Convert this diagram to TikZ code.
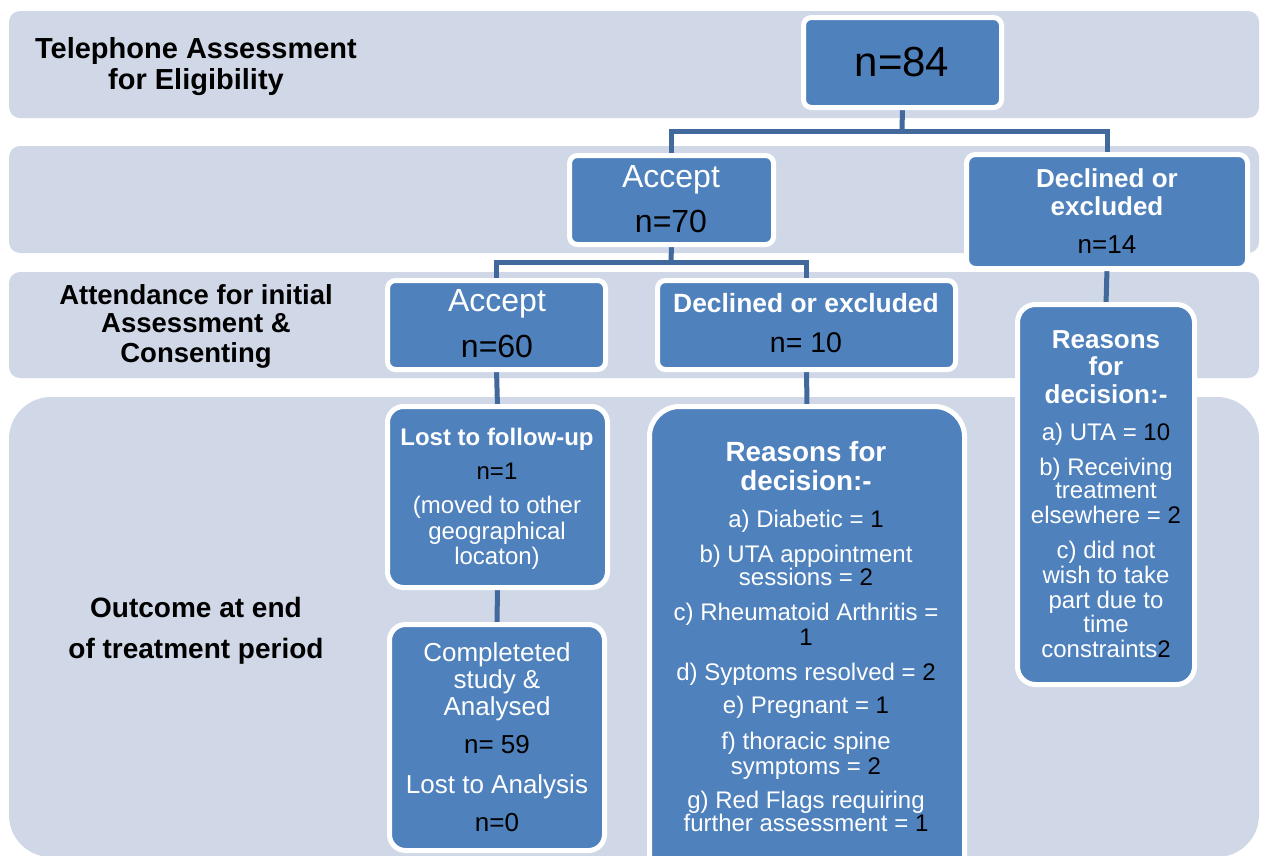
\documentclass[tikz,border=0pt]{standalone}
\usepackage{fontspec}
\setmainfont{Liberation Sans}
\pgfdeclarelayer{bg}
\pgfsetlayers{bg,main}
\definecolor{bandc}{HTML}{D0D8E8}
\definecolor{boxc}{HTML}{4F81BD}
\definecolor{connc}{HTML}{41699B}
\newcommand\blk[1]{\textcolor{black}{#1}}
\newcommand\fs[1]{\fontsize{#1}{#1}\selectfont}
\newcommand\mkbox[6]{\node[bx, rounded corners=#6, minimum width={#4-#2}, minimum height={#5-#3}] (#1) at (#2,#3) {};}
\begin{document}
\begin{tikzpicture}[x=1pt,y=-1pt,
  band/.style={fill=bandc, draw=none},
  bx/.style={draw=white, line width=5pt, fill=boxc, inner sep=0pt, outer sep=0pt, anchor=north west},
  conn/.style={draw=connc, line width=5pt},
  lbl/.style={anchor=base, inner sep=0pt, text=black},
  wt/.style={anchor=base, inner sep=0pt, text=white},
]
\path[use as bounding box] (0,0) rectangle (1261,855);

% boxes
\mkbox{b84}{803.5}{17.5}{1001.5}{107.5}{8}
\mkbox{b70}{569.5}{155.5}{773.5}{244.5}{8}
\mkbox{b14}{966.5}{154.5}{1247.5}{268.5}{9}
\mkbox{b60}{387.5}{280.5}{605.5}{369.5}{8}
\mkbox{b10}{657.5}{280.5}{955.5}{369.5}{8}
\mkbox{bR14}{1017.5}{304.5}{1194.5}{684.5}{18}
\mkbox{bLost}{387.5}{406.5}{607.5}{587.5}{16}
\mkbox{bComp}{389.5}{624.5}{604.5}{850.5}{16}
\mkbox{bR10}{649.5}{406.5}{964.5}{890}{30}

\coordinate (j1) at (902,131);
\coordinate (j2) at (671,262);

\begin{pgfonlayer}{bg}
  \path[fill=white] (0,0) rectangle (1261,855);
  \path[band, rounded corners=11] (9,11) rectangle (1259,118);
  \path[band, rounded corners=11] (9,146) rectangle (1259,253);
  \path[band, rounded corners=11] (9,272) rectangle (1259,378);
  \path[band, rounded corners=42] (9,397) rectangle (1259,857);
  \draw[conn] (b84.south) -- (j1);
  \draw[conn] (b70.north) |- (j1) -| (b14.north);
  \draw[conn] (b70.south) -- (j2);
  \draw[conn] (b60.north) |- (j2) -| (b10.north);
  \draw[conn] (b14.south) -- (bR14.north);
  \draw[conn] (b60.south) -- (bLost.north);
  \draw[conn] (b10.south) -- (bR10.north);
  \draw[conn] (bLost.south) -- (bComp.north);
\end{pgfonlayer}

% stage labels
\node[lbl, font=\bfseries\fs{29}] (l1a) at (196,58) {Telephone Assessment};
\node[lbl, font=\bfseries\fs{29}] (l1b) at (196,89) {for Eligibility};
\node[lbl, font=\bfseries\fs{27.5}] (l3a) at (196,304) {Attendance for initial};
\node[lbl, font=\bfseries\fs{27.5}] (l3b) at (196,332) {Assessment \&};
\node[lbl, font=\bfseries\fs{27.5}] (l3c) at (196,362) {Consenting};
\node[lbl, font=\bfseries\fs{28}] (l4a) at (196,617) {Outcome at end};
\node[lbl, font=\bfseries\fs{28}] (l4b) at (196,658) {of treatment period};

% n=84
\node[lbl, font=\fs{42}] (t84) at (902,76) {n=84};
% accept 70
\node[wt, font=\fs{32}] (t70a) at (671,187) {Accept};
\node[lbl, font=\fs{32}] (t70b) at (671,232) {n=70};
% declined 14
\node[wt, font=\bfseries\fs{26}] (t14a) at (1107,187) {Declined or};
\node[wt, font=\bfseries\fs{26}] (t14b) at (1107,215) {excluded};
\node[lbl, font=\fs{26}] (t14c) at (1107,253) {n=14};
% accept 60
\node[wt, font=\fs{32}] (t60a) at (497,311) {Accept};
\node[lbl, font=\fs{32}] (t60b) at (497,357) {n=60};
% declined 10
\node[wt, font=\bfseries\fs{26.4}] (t10a) at (806,312) {Declined or excluded};
\node[lbl, font=\fs{28.5}] (t10b) at (806,352) {n= 10};
% right reasons
\node[wt, font=\bfseries\fs{26}] (r14a) at (1106,348) {Reasons};
\node[wt, font=\bfseries\fs{26}] (r14b) at (1106,375) {for};
\node[wt, font=\bfseries\fs{26}] (r14c) at (1106,403) {decision:-};
\node[wt, font=\fs{24}] (r14d) at (1106,440) {a) UTA = \blk{10}};
\node[wt, font=\fs{24}] (r14e) at (1106,475) {b) Receiving};
\node[wt, font=\fs{24}] (r14f) at (1106,498) {treatment};
\node[wt, font=\fs{24}] (r14g) at (1106,523) {elsewhere = \blk{2}};
\node[wt, font=\fs{24}] (r14h) at (1106,558) {c) did not};
\node[wt, font=\fs{24}] (r14i) at (1106,583) {wish to take};
\node[wt, font=\fs{24}] (r14j) at (1106,608) {part due to};
\node[wt, font=\fs{24}] (r14k) at (1106,632) {time};
\node[wt, font=\fs{24}] (r14l) at (1106,657) {constraints\blk{2}};
% lost to follow-up
\node[wt, font=\bfseries\fs{24}] (la) at (497,445) {Lost to follow-up};
\node[lbl, font=\fs{24}] (lb) at (497,479) {n=1};
\node[wt, font=\fs{24}] (lc) at (497,513) {(moved to other};
\node[wt, font=\fs{24}] (ld) at (497,539) {geographical};
\node[wt, font=\fs{24}] (le) at (497,564) {locaton)};
% completed
\node[wt, font=\fs{26}] (ca) at (497,661) {Completeted};
\node[wt, font=\fs{26}] (cb) at (497,688) {study \&};
\node[wt, font=\fs{26}] (cc) at (497,715.5) {Analysed};
\node[lbl, font=\fs{26}] (cd) at (497,753) {n= 59};
\node[wt, font=\fs{26}] (ce) at (497,793) {Lost to Analysis};
\node[lbl, font=\fs{26}] (cf) at (497,831) {n=0};
% middle reasons
\node[wt, font=\bfseries\fs{27.8}] (ma) at (806,461) {Reasons for};
\node[wt, font=\bfseries\fs{27.8}] (mb) at (806,490) {decision:-};
\node[wt, font=\fs{24}] (mc) at (806,527.5) {a) Diabetic = \blk{1}};
\node[wt, font=\fs{24}] (md) at (806,562) {b) UTA appointment};
\node[wt, font=\fs{24}] (me) at (806,585.5) {sessions = \blk{2}};
\node[wt, font=\fs{24}] (mf) at (806,620.5) {c) Rheumatoid Arthritis =};
\node[lbl, font=\fs{24}] (mg) at (806,645) {1};
\node[wt, font=\fs{24}] (mh) at (806,680.5) {d) Syptoms resolved = \blk{2}};
\node[wt, font=\fs{24}] (mi) at (806,713.5) {e) Pregnant = \blk{1}};
\node[wt, font=\fs{24}] (mj) at (806,749) {f) thoracic spine};
\node[wt, font=\fs{24}] (mk) at (806,774) {symptoms = \blk{2}};
\node[wt, font=\fs{24}] (ml) at (806,808) {g) Red Flags requiring};
\node[wt, font=\fs{24}] (mm) at (806,831) {further assessment = \blk{1}};
\end{tikzpicture}
\end{document}
